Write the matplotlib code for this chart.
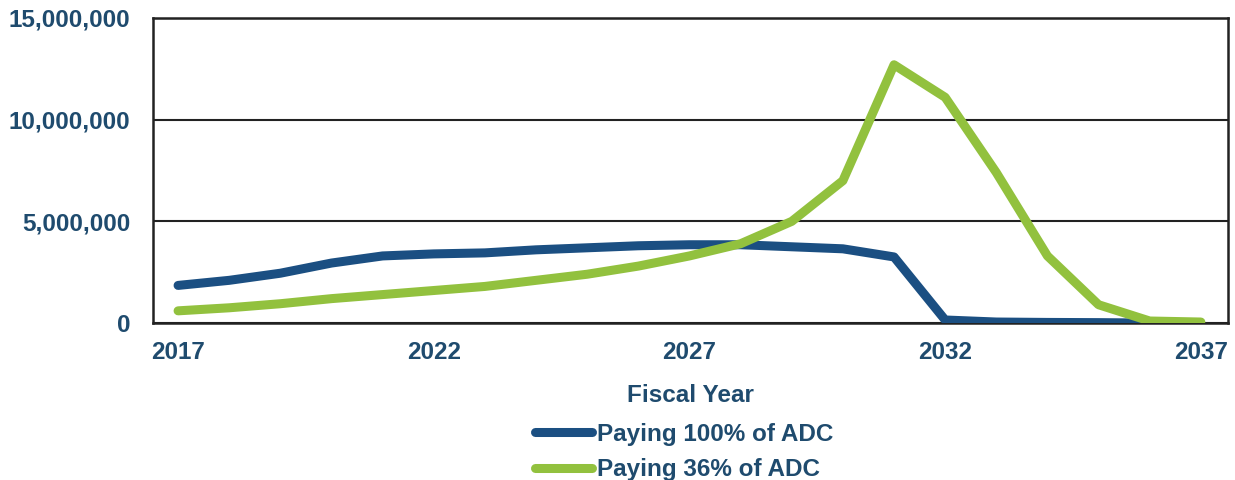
import matplotlib
matplotlib.use('Agg')
import matplotlib.pyplot as plt
from matplotlib.ticker import FuncFormatter

# 数据
years = list(range(2017, 2038))
paying_100 = [1.85, 2.1, 2.45, 2.95, 3.3, 3.4, 3.45, 3.6, 3.7, 3.8, 3.85, 3.85,
              3.75, 3.65, 3.25, 0.15, 0.05, 0.03, 0.02, 0.0]          # 2017-2036
paying_36 = [0.6, 0.75, 0.95, 1.2, 1.4, 1.6, 1.8, 2.1, 2.4, 2.8, 3.3, 3.9,
             5.0, 7.0, 12.7, 11.1, 7.4, 3.3, 0.9, 0.1, 0.05]          # 2017-2037
y_ticks = [0, 5_000_000, 10_000_000, 15_000_000]
x_ticks = [2017, 2022, 2027, 2032, 2037]

BLUE = '#1b4f82'
GREEN = '#92c13e'
TXT = '#1f4b6e'
FS = 17.5

plt.rcParams['font.family'] = ['Liberation Sans', 'DejaVu Sans']

fig = plt.figure(figsize=(12.35, 4.8), dpi=100)
ax = fig.add_axes([0.1239, 0.327, 0.8704, 0.6355])

ax.plot(years[:len(paying_100)], [v * 1e6 for v in paying_100], color=BLUE, lw=6.5,
        solid_capstyle='round', solid_joinstyle='round', label='Paying 100% of ADC', zorder=3)
ax.plot(years, [v * 1e6 for v in paying_36], color=GREEN, lw=6.5,
        solid_capstyle='round', solid_joinstyle='round', label='Paying 36% of ADC', zorder=3)

ax.set_xlim(2016.51, 2037.53)
ax.set_ylim(0, 15_000_000)
ax.set_xticks(x_ticks)
ax.set_yticks(y_ticks)
ax.yaxis.set_major_formatter(FuncFormatter(lambda v, p: f'{int(v):,}'))
ax.grid(axis='y', color='#222222', lw=1.5)
ax.set_axisbelow(True)
for s in ax.spines.values():
    s.set_color('#222222'); s.set_linewidth(1.8)
ax.tick_params(length=0, labelsize=FS, labelcolor=TXT)
ax.tick_params(axis='x', pad=13)
ax.tick_params(axis='y', pad=16.5)
for lab in ax.get_xticklabels() + ax.get_yticklabels():
    lab.set_fontweight('bold')

ax.set_xlabel('Fiscal Year', fontsize=FS, fontweight='bold', color=TXT, labelpad=14)

leg = fig.legend(loc='upper left', bbox_to_anchor=(535 / 1235, 0.119), frameon=False,
                 borderpad=0, borderaxespad=0, handlelength=2.35, handletextpad=0.2,
                 labelspacing=0.5, prop={'weight': 'bold', 'size': FS})
for t in leg.get_texts():
    t.set_color(TXT)

fig.savefig('out.png', dpi=100)
